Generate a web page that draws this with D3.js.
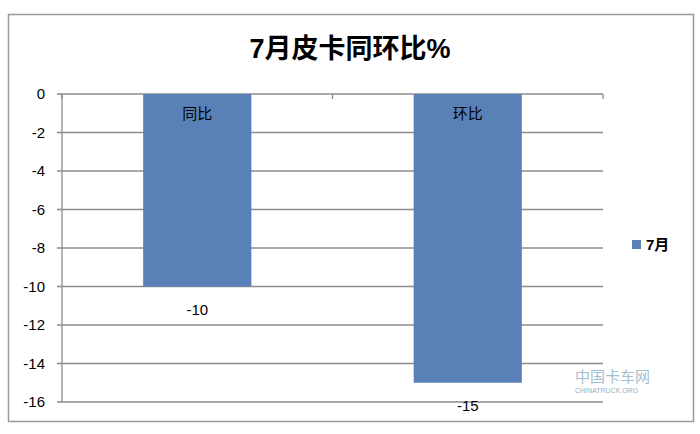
<!DOCTYPE html>
<html><head><meta charset="utf-8">
<script src="https://cdn.jsdelivr.net/npm/d3@7"></script>
<style>body{margin:0;background:#fff}</style>
</head><body>
<svg id="c" width="700" height="434"></svg>
<script>
const categories = ["同比", "环比"];
const values = [-10, -15];
const seriesName = "7月";
const yTicks = [0, -2, -4, -6, -8, -10, -12, -14, -16];
const title = "7月皮卡同环比%";

const svg = d3.select("#c");
const font = "'Liberation Sans', Arial, 'Noto Sans CJK SC', sans-serif";
svg.append("rect").attr("x", 8.5).attr("y", 14.5).attr("width", 685).attr("height", 407)
  .attr("fill", "#fff").attr("stroke", "#9a9a9a").attr("stroke-width", 1.5);

const L = 62, R = 603, T = 94, B = 402;
const y = d3.scaleLinear().domain([0, -16]).range([T, B]);
const x = d3.scaleBand().domain(categories).range([L, R]).paddingInner(0.6).paddingOuter(0.3);

// grid
svg.append("g").selectAll("line").data(yTicks).join("line")
  .attr("x1", L - 5).attr("x2", R).attr("y1", d => y(d)).attr("y2", d => y(d))
  .attr("stroke", "#8c8c8c").attr("stroke-width", 1.3);
svg.append("line").attr("x1", L).attr("x2", L).attr("y1", T).attr("y2", B)
  .attr("stroke", "#8c8c8c").attr("stroke-width", 1.3);

// category boundary ticks
const step = (R - L) / categories.length;
svg.append("g").selectAll("line").data(d3.range(categories.length + 1)).join("line")
  .attr("x1", i => L + i * step).attr("x2", i => L + i * step)
  .attr("y1", T).attr("y2", T + 5).attr("stroke", "#8c8c8c").attr("stroke-width", 1.3);

// y labels
svg.append("g").selectAll("text").data(yTicks).join("text")
  .attr("x", 45).attr("y", d => y(d)).attr("dy", "0.35em").attr("text-anchor", "end")
  .attr("font-family", font).attr("font-size", 15).attr("fill", "#000").text(d => d);

// bars
svg.append("g").selectAll("rect").data(values).join("rect")
  .attr("x", (d, i) => x(categories[i])).attr("width", x.bandwidth())
  .attr("y", y(0)).attr("height", d => y(d) - y(0)).attr("fill", "#5a80b8");

// category labels inside bars
svg.append("g").selectAll("text").data(categories).join("text")
  .attr("x", d => x(d) + x.bandwidth() / 2).attr("y", y(0) + 25)
  .attr("text-anchor", "middle").attr("font-family", font).attr("font-size", 15)
  .attr("fill", "#000").text(d => d);

// value labels
svg.append("g").selectAll("text").data(values).join("text")
  .attr("x", (d, i) => x(categories[i]) + x.bandwidth() / 2).attr("y", d => y(d) + 28)
  .attr("text-anchor", "middle").attr("font-family", font).attr("font-size", 15)
  .attr("fill", "#000").text(d => d);

// title
svg.append("text").attr("x", 350).attr("y", 58).attr("text-anchor", "middle")
  .attr("font-family", font).attr("font-size", 27).attr("font-weight", "bold").text(title);

// legend
svg.append("rect").attr("x", 632).attr("y", 240).attr("width", 9).attr("height", 9).attr("fill", "#5a80b8");
svg.append("text").attr("x", 646).attr("y", 250).attr("font-family", font).attr("font-size", 15)
  .attr("font-weight", "bold").text(seriesName);

// watermark
svg.append("text").attr("x", 575).attr("y", 382).attr("font-family", "'Noto Sans CJK SC'")
  .attr("font-size", 15).attr("fill", "#8fb0c8").attr("opacity", 0.8).text("中国卡车网");
svg.append("text").attr("x", 575).attr("y", 393).attr("font-family", font)
  .attr("font-size", 7).attr("fill", "#8fb0c8").text("CHINATRUCK.ORG");
</script>
</body></html>
